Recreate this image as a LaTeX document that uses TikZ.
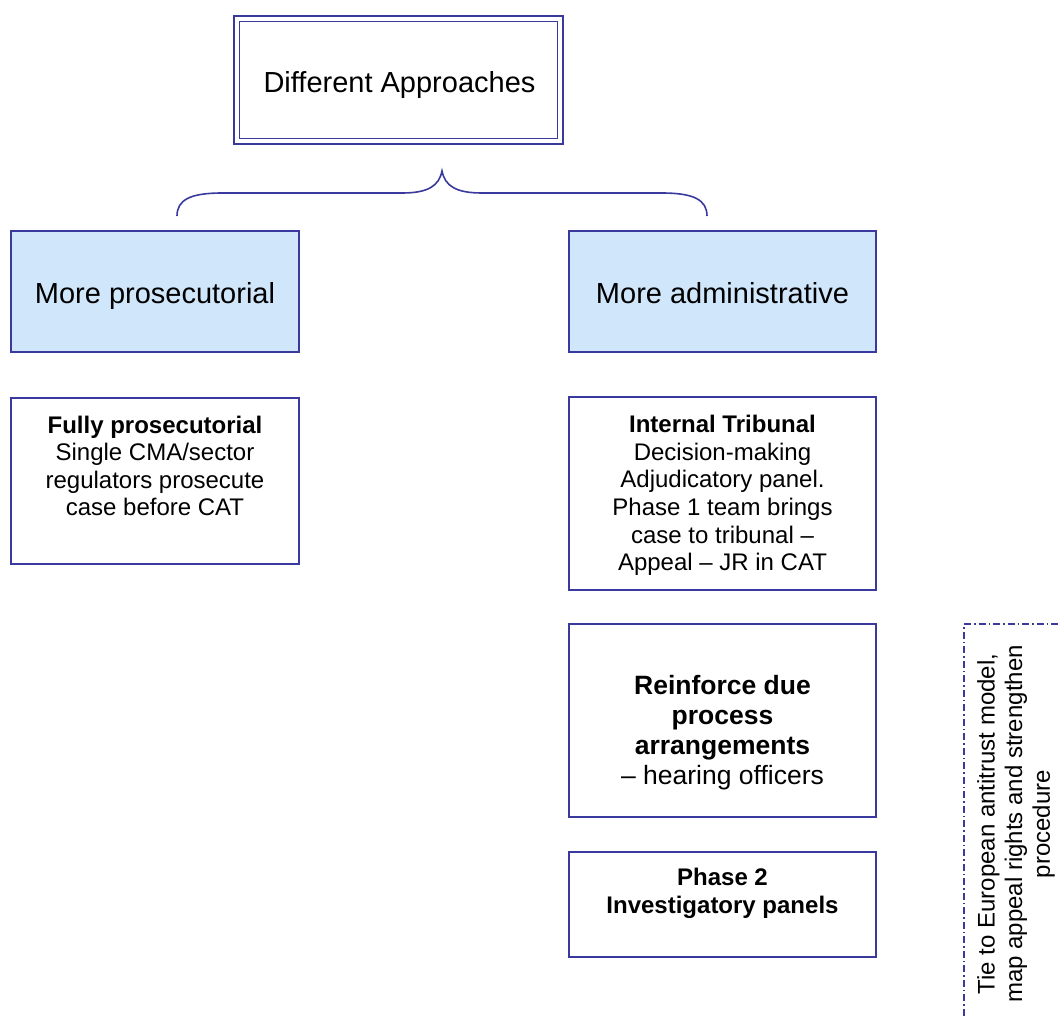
\documentclass[tikz,border=0pt]{standalone}
\usepackage{fontspec}
\setmainfont{Liberation Sans}
\definecolor{bd}{HTML}{3A3A9E}
\definecolor{fl}{HTML}{D0E6FB}
\tikzset{
  box/.style={draw=bd, line width=1.8pt, inner sep=0pt, outer sep=0pt, minimum width=#1},
  box/.default=307pt,
  bluebox/.style={box=#1, fill=fl},
  bluebox/.default=307pt,
  txt/.style={align=center, inner sep=0pt, font=\fontsize{24}{27.6}\selectfont},
  bigtxt/.style={align=center, inner sep=0pt, anchor=base, font=\fontsize{29}{33}\selectfont},
  midtxt/.style={align=center, inner sep=0pt, font=\fontsize{26.5}{30}\selectfont},
  dashline/.style={draw=bd, line width=1.5pt, dash pattern=on 7pt off 3pt on 1.5pt off 3pt},
  bracestyle/.style={draw=bd, line width=1.6pt}
}
\begin{document}
\begin{tikzpicture}[x=1pt,y=-1pt]
\useasboundingbox (0,0) rectangle (1058,1017);
\clip (0,0) rectangle (1058,1017);
% title box (double border)
\node[box=329pt, line width=2.5pt, minimum height=128pt] (topout) at (398.5,80) {};
\node[box=318pt, line width=1.6pt, minimum height=117pt] (topin) at (398.5,80) {};
\node[bigtxt] (ttop) at (399.5,92.5) {Different Approaches};
% brace
\coordinate (bl) at (177,216);
\coordinate (br) at (707,216);
\coordinate (bt) at (442,171);
\draw[bracestyle] (bl) .. controls (177,200) and (190,193) .. (222,193) -- (402,193)
  .. controls (428,193) and (439,186) .. (bt)
  .. controls (445,186) and (456,193) .. (482,193) -- (662,193)
  .. controls (694,193) and (707,200) .. (br);
% category boxes
\node[bluebox=288pt, minimum height=121pt] (pros) at (155,291.5) {};
\node[bigtxt] (tpros) at (155,303) {More prosecutorial};
\node[bluebox=307pt, minimum height=121pt] (adm) at (722.5,291.5) {};
\node[bigtxt] (tadm) at (722.5,303) {More administrative};
% left detail
\node[box=288pt, minimum height=166pt] (fully) at (155,481) {};
\node[txt] (tfully) at (155,466) {\textbf{Fully prosecutorial}\\Single CMA/sector\\regulators prosecute\\case before CAT};
% right details
\node[box=307pt, minimum height=193pt] (intr) at (722.5,493.5) {};
\node[txt] (tintr) at (722.5,495.5) {\textbf{Internal Tribunal}\\Decision-making\\Adjudicatory panel.\\Phase 1 team brings\\case to tribunal –\\Appeal – JR in CAT};
\node[box=307pt, minimum height=193pt] (reinf) at (722.5,720.5) {};
\node[midtxt] (treinf) at (722.5,732.5) {\textbf{Reinforce due}\\\textbf{process}\\\textbf{arrangements}\\– hearing officers};
\node[box=307pt, minimum height=105pt] (ph2) at (722.5,904.5) {};
\node[txt] (tph2) at (722.5,893.5) {\textbf{Phase 2}\\\textbf{Investigatory panels}};
% dashed side box
\coordinate (dtl) at (964,624);
\coordinate (dbl) at (964,1030);
\coordinate (dtr) at (1070,624);
\draw[dashline] (dbl) -- (dtl) -- (dtr);
\node[txt, rotate=90] (tside) at (1016,824) {Tie to European antitrust model,\\map appeal rights and strengthen\\procedure};
\end{tikzpicture}
\end{document}
